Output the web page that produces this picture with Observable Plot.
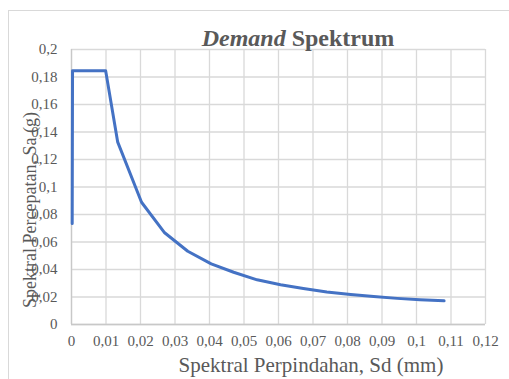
<!DOCTYPE html>
<html><head><meta charset="utf-8">
<script src="https://cdn.jsdelivr.net/npm/d3@7"></script>
<script src="https://cdn.jsdelivr.net/npm/@observablehq/plot@0.6"></script>
<style>
body{margin:0;background:#fff;width:509px;height:379px;overflow:hidden;position:relative;}
#frame{position:absolute;left:8px;top:10px;width:520px;height:400px;border:1px solid #d9d9d9;}
#chart{position:absolute;left:0;top:0;}
#chart svg text{font-family:'Liberation Serif','Times New Roman',serif !important;}
#chart svg g[aria-label$="tick label"] text{font-size:15px !important;font-variant-numeric:normal !important;}
</style></head><body>
<div id="frame"></div>
<div id="chart"></div>
<script>
const sd = [0.0002, 0.0003, 0.0099, 0.0134, 0.0203, 0.0270, 0.0337, 0.0405, 0.0470, 0.0538, 0.0606, 0.0672, 0.0740, 0.0809, 0.0876, 0.0944, 0.1010, 0.1080];
const sa = [0.0735, 0.1845, 0.1845, 0.1326, 0.0889, 0.0667, 0.0533, 0.0441, 0.0380, 0.0325, 0.0289, 0.0262, 0.0237, 0.0218, 0.0203, 0.0190, 0.0180, 0.0172];
const xTicks = [0, 0.01, 0.02, 0.03, 0.04, 0.05, 0.06, 0.07, 0.08, 0.09, 0.1, 0.11, 0.12];
const yTicks = [0, 0.02, 0.04, 0.06, 0.08, 0.1, 0.12, 0.14, 0.16, 0.18, 0.2];
const titleItalic = "Demand";
const titleBold = " Spektrum";
const xLabel = "Spektral Perpindahan, Sd (mm)";
const yLabel = "Spektral Percepatan, Sa (g)";

const data = sd.map((x, i) => ({x, y: sa[i]}));
const fmt = d => String(d).replace(".", ",");
const font = "'Liberation Serif', 'Times New Roman', serif";

const plot = Plot.plot({
  width: 509, height: 379,
  marginLeft: 71, marginRight: 24, marginTop: 49, marginBottom: 55,
  style: {fontFamily: font, fontSize: "15px", color: "#595959", background: "transparent"},
  x: {domain: [0, 0.12]},
  y: {domain: [0, 0.2]},
  marks: [
    Plot.gridX(xTicks, {stroke: "#d9d9d9", strokeOpacity: 1, strokeWidth: 1.3}),
    Plot.gridY(yTicks, {stroke: "#d9d9d9", strokeOpacity: 1, strokeWidth: 1.3}),
    Plot.ruleX([0], {stroke: "#c8c8c8", strokeWidth: 1.3}),
    Plot.ruleY([0], {stroke: "#c8c8c8", strokeWidth: 1.3}),
    Plot.axisX(xTicks, {tickSize: 0, tickPadding: 11, label: null, fill: "#595959", fontSize: 15, tickFormat: fmt}),
    Plot.axisY(yTicks, {tickSize: 0, tickPadding: 14, label: null, fill: "#595959", fontSize: 15, tickFormat: fmt}),
    Plot.line(data, {x: "x", y: "y", stroke: "#4472C4", strokeWidth: 3, strokeLinejoin: "round"})
  ]
});
document.getElementById("chart").appendChild(plot);

const svg = d3.select(plot);
const t = svg.append("text").attr("x", 298).attr("y", 46).attr("text-anchor", "middle")
  .style("font-size", "24px").style("font-weight", "bold").attr("fill", "#595959");
t.append("tspan").style("font-style", "italic").text(titleItalic);
t.append("tspan").text(titleBold);
svg.append("text").attr("x", 311).attr("y", 372).attr("text-anchor", "middle")
  .style("font-size", "21px").attr("fill", "#595959").text(xLabel);
svg.append("text").attr("transform", "translate(36,210) rotate(-90)").attr("text-anchor", "middle")
  .style("font-size", "18px").attr("fill", "#595959").text(yLabel);
</script>
</body></html>
